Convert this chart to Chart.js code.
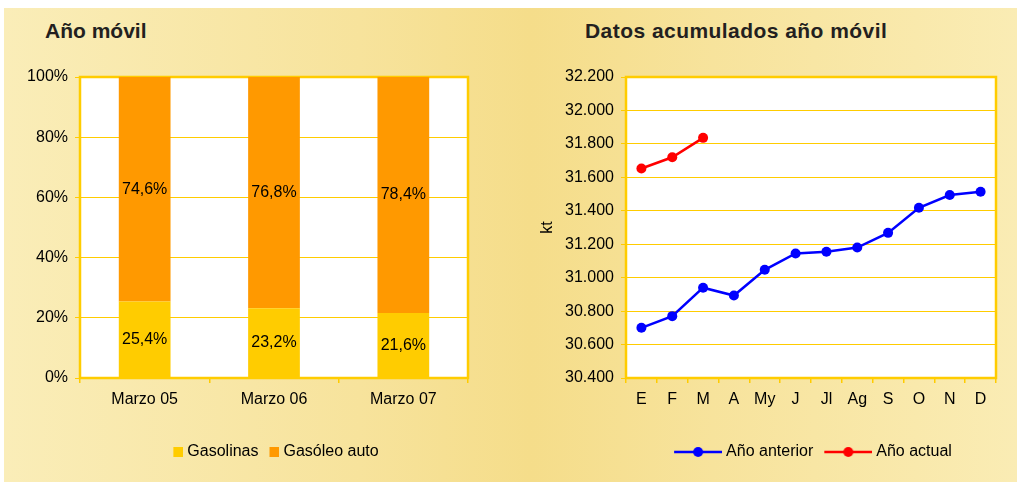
<!DOCTYPE html>
<html>
<head>
<meta charset="utf-8">
<script src="https://cdn.jsdelivr.net/npm/chart.js@4.4.1/dist/chart.umd.min.js"></script>
<style>
  html, body { margin: 0; padding: 0; background: #ffffff; }
  body { width: 1017px; height: 482px; position: relative; overflow: hidden; font-family: "Liberation Sans", Arial, sans-serif; }
  #panel { position: absolute; left: 4px; top: 8px; right: 0; bottom: 0;
    background: linear-gradient(to right, #faedb8 0%, #f7e39c 35%, #f5dd8a 52%, #f7e39c 70%, #faecb4 100%); }
  .title { position: absolute; top: 20px; font: bold 21px "Liberation Sans", Arial, sans-serif; line-height: 1; color: #231f20; white-space: nowrap; }
  canvas { position: absolute; top: 0; }
</style>
</head>
<body>
<div id="panel"></div>
<div class="title" style="left:45px;">Año móvil</div>
<div class="title" style="left:585px;letter-spacing:0.45px;">Datos acumulados año móvil</div>
<canvas id="c1" width="510" height="482" style="left:0px;width:510px;height:482px;"></canvas>
<canvas id="c2" width="507" height="482" style="left:510px;width:507px;height:482px;"></canvas>
<script>
// ---------- Data ----------
const barCategories = ['Marzo 05', 'Marzo 06', 'Marzo 07'];
const gasolinas = [25.4, 23.2, 21.6];
const gasoleoAuto = [74.6, 76.8, 78.4];
const pctTicks = [0, 20, 40, 60, 80, 100];

const months = ['E', 'F', 'M', 'A', 'My', 'J', 'Jl', 'Ag', 'S', 'O', 'N', 'D'];
const anoAnterior = [30700, 30770, 30940, 30893, 31047, 31145, 31155, 31180, 31268, 31418, 31494, 31514];
const anoActual = [31653, 31720, 31836];
const ktTicks = [30400, 30600, 30800, 31000, 31200, 31400, 31600, 31800, 32000, 32200];

// ---------- Styles ----------
const FONT = '"Liberation Sans", Arial, sans-serif';
const GOLD = '#FFCC00';
const YELLOW = '#FFCC00';
const ORANGE = '#FF9900';
const BLUE = '#0000FF';
const RED = '#FF0000';
Chart.defaults.font.family = FONT;
Chart.defaults.font.size = 16;
Chart.defaults.color = '#000000';

const plotFrame = {
  id: 'plotFrame',
  beforeDraw(chart) {
    const a = chart.chartArea, ctx = chart.ctx;
    ctx.save();
    ctx.fillStyle = '#ffffff';
    ctx.fillRect(a.left, a.top, a.right - a.left, a.bottom - a.top);
    ctx.restore();
  },
  beforeDatasetsDraw(chart) {
    const a = chart.chartArea, ctx = chart.ctx;
    ctx.save();
    ctx.strokeStyle = GOLD;
    ctx.lineWidth = 2.5;
    ctx.strokeRect(a.left, a.top, a.right - a.left, a.bottom - a.top);
    ctx.restore();
  }
};

const barLabels = {
  id: 'barLabels',
  afterDatasetsDraw(chart) {
    const ctx = chart.ctx;
    ctx.save();
    ctx.font = '16px ' + FONT;
    ctx.fillStyle = '#000000';
    ctx.textAlign = 'center';
    ctx.textBaseline = 'middle';
    chart.data.datasets.forEach((ds, di) => {
      const meta = chart.getDatasetMeta(di);
      meta.data.forEach((bar, i) => {
        const v = ds.data[i];
        const txt = v.toFixed(1).replace('.', ',') + '%';
        ctx.fillText(txt, bar.x, (bar.y + bar.base) / 2);
      });
    });
    ctx.restore();
  }
};

function squareIcon(color) {
  const c = document.createElement('canvas');
  c.width = 18; c.height = 10;
  const g = c.getContext('2d');
  g.fillStyle = color;
  g.fillRect(8, 0, 10, 10);
  return c;
}
function lineIcon(color) {
  const c = document.createElement('canvas');
  c.width = 56; c.height = 12;
  const g = c.getContext('2d');
  g.strokeStyle = color;
  g.lineWidth = 2.5;
  g.beginPath(); g.moveTo(8, 6); g.lineTo(56, 6); g.stroke();
  g.fillStyle = color;
  g.beginPath(); g.arc(32, 6, 5, 0, Math.PI * 2); g.fill();
  return c;
}

// ---------- Chart 1: stacked bars ----------
new Chart(document.getElementById('c1'), {
  type: 'bar',
  data: {
    labels: barCategories,
    datasets: [
      { label: 'Gasolinas', data: gasolinas, backgroundColor: YELLOW, icon: squareIcon(YELLOW) },
      { label: 'Gasóleo auto', data: gasoleoAuto, backgroundColor: ORANGE, icon: squareIcon(ORANGE) }
    ]
  },
  options: {
    responsive: false,
    animation: false,
    layout: { padding: { left: 0, top: 77, right: 42, bottom: 12 } },
    datasets: { bar: { categoryPercentage: 1, barPercentage: 0.4 } },
    scales: {
      x: {
        stacked: true,
        grid: { display: true, drawOnChartArea: false, drawTicks: true, tickLength: 5, color: GOLD, lineWidth: 1.5, offset: true },
        border: { display: false },
        ticks: { padding: 7, color: '#000', font: { size: 16 } },
        afterFit(s) { s.height = 59; }
      },
      y: {
        stacked: true,
        min: 0, max: 100,
        afterBuildTicks(s) { s.ticks = pctTicks.map(v => ({ value: v })); },
        grid: { color: GOLD, lineWidth: 1, tickLength: 5, drawTicks: true },
        border: { display: false },
        ticks: { padding: 7, color: '#000', font: { size: 16 }, callback: v => v + '%' },
        afterFit(s) { s.width = 80; }
      }
    },
    plugins: {
      tooltip: { enabled: false },
      legend: {
        position: 'bottom',
        fullSize: false,
        labels: {
          usePointStyle: true,
          pointStyleWidth: 10,
          padding: 7,
          color: '#000',
          font: { size: 16 },
          generateLabels(chart) {
            return chart.data.datasets.map((ds, i) => ({
              text: ds.label, pointStyle: ds.icon, fillStyle: ds.backgroundColor,
              strokeStyle: ds.backgroundColor, lineWidth: 0, hidden: false, datasetIndex: i, fontColor: '#000'
            }));
          }
        }
      }
    }
  },
  plugins: [plotFrame, barLabels]
});

// ---------- Chart 2: lines ----------
function fmtThousands(v) {
  const s = String(Math.round(v));
  return s.replace(/\B(?=(\d{3})+(?!\d))/g, '.');
}

new Chart(document.getElementById('c2'), {
  type: 'line',
  data: {
    labels: months,
    datasets: [
      { label: 'Año anterior', data: anoAnterior, borderColor: BLUE, backgroundColor: BLUE,
        borderWidth: 2.5, pointRadius: 5, pointBackgroundColor: BLUE, pointBorderWidth: 0, tension: 0, icon: lineIcon(BLUE) },
      { label: 'Año actual', data: anoActual, borderColor: RED, backgroundColor: RED,
        borderWidth: 2.5, pointRadius: 5, pointBackgroundColor: RED, pointBorderWidth: 0, tension: 0, icon: lineIcon(RED) }
    ]
  },
  options: {
    responsive: false,
    animation: false,
    layout: { padding: { left: 0, top: 77, right: 21, bottom: 12 } },
    scales: {
      x: {
        offset: true,
        grid: { display: true, drawOnChartArea: false, drawTicks: true, tickLength: 5, color: GOLD, lineWidth: 1.5, offset: true },
        border: { display: false },
        ticks: { padding: 7, color: '#000', font: { size: 16 }, autoSkip: false, maxRotation: 0 },
        afterFit(s) { s.height = 59; }
      },
      y: {
        min: 30400, max: 32200,
        afterBuildTicks(s) { s.ticks = ktTicks.map(v => ({ value: v })); },
        grid: { color: GOLD, lineWidth: 1, tickLength: 5, drawTicks: true },
        border: { display: false },
        ticks: { padding: 7, color: '#000', font: { size: 16 }, callback: v => fmtThousands(v) },
        title: { display: true, text: 'kt', color: '#000', font: { size: 16 }, padding: { top: 28, bottom: 0 } },
        afterFit(s) { s.width = 116; }
      }
    },
    plugins: {
      tooltip: { enabled: false },
      legend: {
        position: 'bottom',
        fullSize: false,
        labels: {
          usePointStyle: true,
          pointStyleWidth: 48,
          padding: 7,
          color: '#000',
          font: { size: 16 },
          generateLabels(chart) {
            return chart.data.datasets.map((ds, i) => ({
              text: ds.label, pointStyle: ds.icon, fillStyle: ds.borderColor,
              strokeStyle: ds.borderColor, lineWidth: 0, hidden: false, datasetIndex: i, fontColor: '#000'
            }));
          }
        }
      }
    }
  },
  plugins: [plotFrame]
});
</script>
</body>
</html>
